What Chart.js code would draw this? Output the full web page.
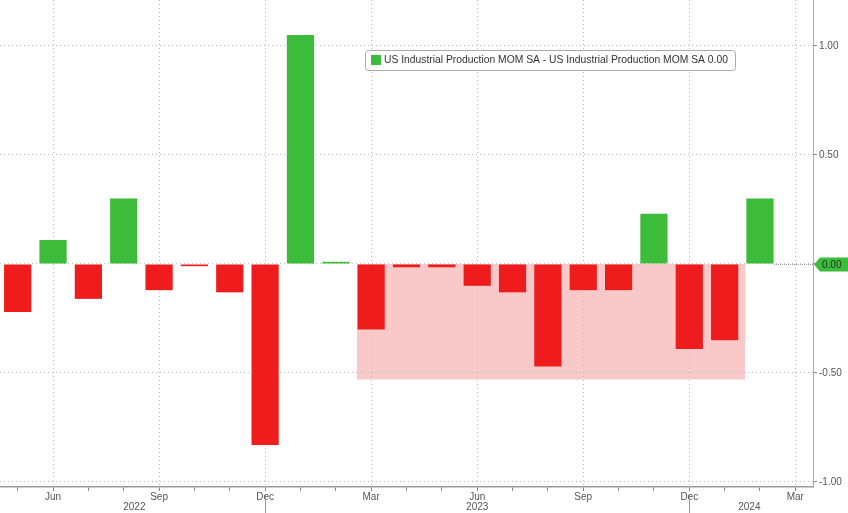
<!DOCTYPE html>
<html>
<head>
<meta charset="utf-8">
<script src="https://cdn.jsdelivr.net/npm/chart.js@4/dist/chart.umd.min.js"></script>
<style>
  html, body { margin: 0; padding: 0; background: #fff; }
  #wrap { width: 848px; height: 513px; }
</style>
</head>
<body>
<div id="wrap"><canvas id="ip-chart" width="848" height="513"></canvas></div>
<script>
// monthly, May 2022 .. Mar 2024
var months = ['May','Jun','Jul','Aug','Sep','Oct','Nov','Dec',
              'Jan','Feb','Mar','Apr','May','Jun','Jul','Aug','Sep','Oct','Nov','Dec',
              'Jan','Feb','Mar'];
var years = ['2022','2022','2022','2022','2022','2022','2022','2022',
             '2023','2023','2023','2023','2023','2023','2023','2023','2023','2023','2023','2023',
             '2024','2024','2024'];
var ipMom = [-0.22, 0.11, -0.16, 0.30, -0.12, -0.01, -0.13, -0.83,
             1.05, 0.01, -0.30, -0.015, -0.015, -0.10, -0.13, -0.47, -0.12, -0.12, 0.23, -0.39,
             -0.35, 0.30, null];
var tickMonths = ['Jun','Sep','Dec','Mar'];
var yTicks = [-1, -0.5, 0, 0.5, 1];
var shadeLow = -0.53;          // bottom of the pink band (Mar 2023 - Jan 2024)
var lastValue = '0.00';
var legendText = 'US Industrial Production MOM SA - US Industrial Production MOM SA ' + lastValue;

var labels = months.map(function (m, i) { return m + ' ' + years[i]; });
var GREEN = '#3dbb3a', RED = '#ee1c1c';

var overlay = {
  id: 'overlay',
  beforeDraw: function (chart) {
    var ctx = chart.ctx, x = chart.scales.x, y = chart.scales.y;
    var x0 = x.getPixelForValue(9.6), x1 = x.getPixelForValue(20.58);
    var y0 = y.getPixelForValue(0), y1 = y.getPixelForValue(shadeLow);
    ctx.save();
    ctx.fillStyle = '#f9c8c8';
    ctx.fillRect(x0, y0, x1 - x0, y1 - y0);
    ctx.restore();
  },
  afterDraw: function (chart) {
    var ctx = chart.ctx, x = chart.scales.x, y = chart.scales.y, area = chart.chartArea;
    ctx.save();

    // year row + separators
    ctx.font = '10px "Liberation Sans"';
    ctx.fillStyle = '#555';
    ctx.textAlign = 'center';
    ctx.textBaseline = 'middle';
    var yearPos = { '2022': 3.3, '2023': 13, '2024': 20.7 };
    Object.keys(yearPos).forEach(function (yr) {
      ctx.fillText(yr, x.getPixelForValue(yearPos[yr]), 507);
    });
    ctx.strokeStyle = '#999';
    ctx.lineWidth = 1;
    [7, 19].forEach(function (i) {
      var px = Math.round(x.getPixelForValue(i)) + 0.5;
      ctx.beginPath();
      ctx.moveTo(px, area.bottom + 8);
      ctx.lineTo(px, 513);
      ctx.stroke();
    });

    // dotted line from last bar to the axis
    var zy = Math.round(y.getPixelForValue(0)) + 0.5;
    ctx.setLineDash([1, 1]);
    ctx.strokeStyle = '#999';
    ctx.beginPath();
    ctx.moveTo(x.getPixelForValue(21) + 14, zy);
    ctx.lineTo(area.right, zy);
    ctx.stroke();
    ctx.setLineDash([]);

    // last value tag
    var tx = area.right + 1;
    ctx.fillStyle = GREEN;
    ctx.beginPath();
    ctx.moveTo(tx, zy);
    ctx.lineTo(tx + 6, zy - 7);
    ctx.lineTo(848, zy - 7);
    ctx.lineTo(848, zy + 7);
    ctx.lineTo(tx + 6, zy + 7);
    ctx.closePath();
    ctx.fill();
    ctx.fillStyle = '#1d3a1d';
    ctx.textAlign = 'left';
    ctx.font = '10px "Liberation Sans"';
    ctx.fillText(lastValue, tx + 8, zy + 0.5);

    // legend box
    var bx = 365.5, by = 50.5, bw = 370, bh = 20;
    ctx.fillStyle = '#fff';
    ctx.strokeStyle = '#aaa';
    ctx.beginPath();
    ctx.roundRect(bx, by, bw, bh, 3);
    ctx.fill();
    ctx.stroke();
    ctx.fillStyle = GREEN;
    ctx.fillRect(371, 55, 10, 10);
    var fs = 10;
    ctx.font = fs + 'px "Liberation Sans"';
    var w = ctx.measureText(legendText).width;
    fs = fs * 344 / w;
    ctx.font = fs.toFixed(2) + 'px "Liberation Sans"';
    ctx.fillStyle = '#333';
    ctx.textBaseline = 'middle';
    ctx.fillText(legendText, 384, 60.5);
    ctx.restore();
  }
};

new Chart(document.getElementById('ip-chart'), {
  type: 'bar',
  data: {
    labels: labels,
    datasets: [{
      data: ipMom,
      backgroundColor: ipMom.map(function (v) { return v >= 0 ? GREEN : RED; }),
      borderWidth: 0,
      barPercentage: 0.77,
      categoryPercentage: 1
    }]
  },
  options: {
    responsive: false,
    animation: false,
    layout: { padding: 0 },
    plugins: { legend: { display: false }, tooltip: { enabled: false } },
    scales: {
      x: {
        offset: true,
        grid: {
          offset: false,
          color: function (c) { return tickMonths.indexOf(months[c.index]) >= 0 ? '#bbb' : 'rgba(0,0,0,0)'; },
          tickColor: '#888',
          tickLength: 4
        },
        border: { display: true, color: '#999', width: 1.5, dash: [1, 3] },
        ticks: {
          autoSkip: false,
          maxRotation: 0,
          padding: 0,
          color: '#555',
          font: { family: 'Liberation Sans', size: 10 },
          callback: function (v, i) { return tickMonths.indexOf(months[i]) >= 0 ? months[i] : ''; }
        },
        afterFit: function (s) { s.height = 26; s.paddingLeft = 0; s.paddingRight = 0; }
      },
      y: {
        position: 'right',
        min: -1.023,
        max: 1.211,
        afterBuildTicks: function (s) { s.ticks = yTicks.map(function (v) { return { value: v }; }); },
        grid: { color: '#bbb', tickColor: '#888', tickLength: 4 },
        border: { display: true, color: '#aaa', dash: [1, 3] },
        ticks: {
          color: '#555',
          padding: 2,
          font: { family: 'Liberation Sans', size: 10 },
          callback: function (v) { return v === 0 ? '' : v.toFixed(2); }
        },
        afterFit: function (s) { s.width = 35; s.paddingTop = 0; s.paddingBottom = 0; }
      }
    }
  },
  plugins: [overlay]
});
</script>
</body>
</html>
